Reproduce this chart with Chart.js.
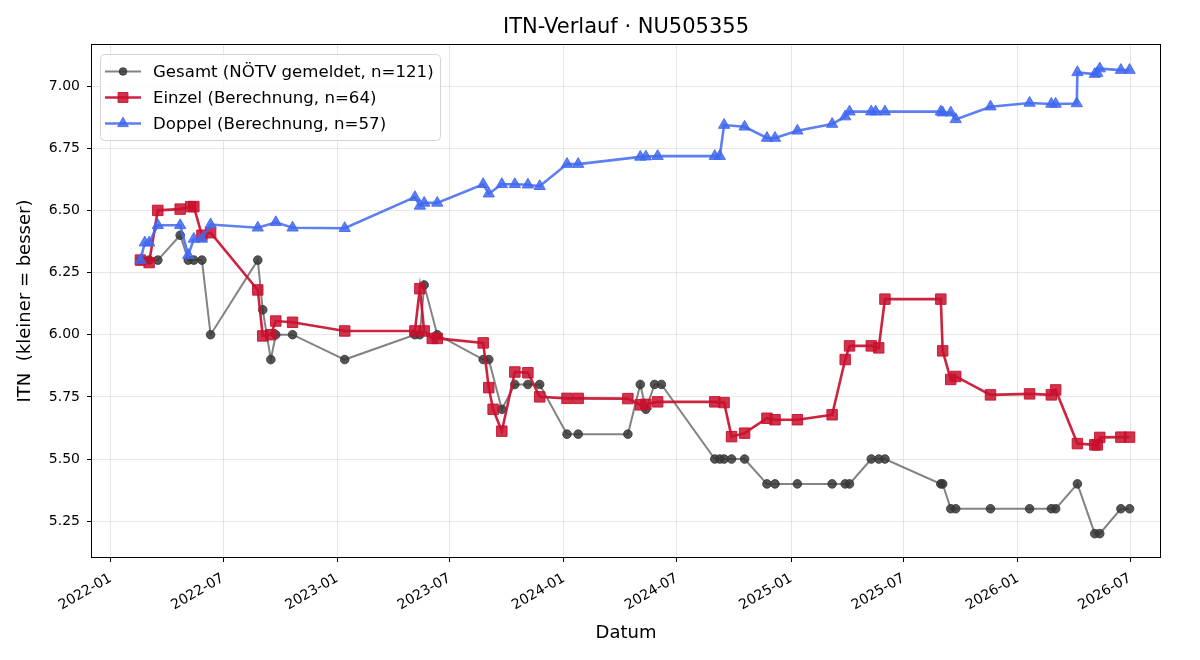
<!DOCTYPE html>
<html>
<head>
<meta charset="utf-8">
<title>ITN-Verlauf</title>
<script src="https://cdn.jsdelivr.net/npm/chart.js@4.4.1/dist/chart.umd.min.js"></script>
<style>
  html, body { margin: 0; padding: 0; background: #fff; }
  #wrap { width: 1200px; height: 660px; }
</style>
</head>
<body>
<div id="wrap"><canvas id="itnChart" width="1200" height="660"></canvas></div>
<script>
// Gesamt (NÖTV gemeldet)
const gesamtDates = ["2022-02-18","2022-03-04","2022-03-18","2022-04-23","2022-05-06","2022-05-15","2022-05-28","2022-06-11","2022-08-26","2022-09-03",
  "2022-09-16","2022-09-24","2022-10-21","2023-01-13","2023-05-06","2023-05-14","2023-05-21","2023-06-11","2023-08-24","2023-09-02",
  "2023-09-23","2023-10-14","2023-11-04","2023-11-23","2024-01-06","2024-01-24","2024-04-13","2024-05-03","2024-05-12","2024-05-26",
  "2024-06-06","2024-08-31","2024-09-08","2024-09-15","2024-09-27","2024-10-18","2024-11-23","2024-12-06","2025-01-11","2025-03-08",
  "2025-03-29","2025-04-05","2025-05-10","2025-05-22","2025-06-01","2025-08-30","2025-09-02","2025-09-15","2025-09-23","2025-11-18",
  "2026-01-20","2026-02-24","2026-03-03","2026-04-07","2026-05-05","2026-05-13","2026-06-16","2026-06-30"];
const gesamtValues = [6.30,6.30,6.30,6.40,6.30,6.30,6.30,6.00,6.30,6.10,
  5.90,6.00,6.00,5.90,6.00,6.00,6.20,6.00,5.90,5.90,
  5.70,5.80,5.80,5.80,5.60,5.60,5.60,5.80,5.70,5.80,
  5.80,5.50,5.50,5.50,5.50,5.50,5.40,5.40,5.40,5.40,
  5.40,5.40,5.50,5.50,5.50,5.40,5.40,5.30,5.30,5.30,
  5.30,5.30,5.30,5.40,5.20,5.20,5.30,5.30];

// Einzel (Berechnung)
const einzelDates = ["2022-02-18","2022-03-04","2022-03-18","2022-04-23","2022-05-10","2022-05-15","2022-05-28","2022-06-11","2022-08-26","2022-09-03",
  "2022-09-16","2022-09-24","2022-10-21","2023-01-13","2023-05-06","2023-05-14","2023-05-21","2023-06-03","2023-06-11","2023-08-24",
  "2023-09-02","2023-09-09","2023-09-23","2023-10-14","2023-11-04","2023-11-23","2024-01-06","2024-01-24","2024-04-13","2024-05-03",
  "2024-05-12","2024-05-31","2024-08-31","2024-09-15","2024-09-27","2024-10-18","2024-11-23","2024-12-06","2025-01-11","2025-03-08",
  "2025-03-29","2025-04-05","2025-05-10","2025-05-22","2025-06-01","2025-08-30","2025-09-02","2025-09-15","2025-09-23","2025-11-18",
  "2026-01-20","2026-02-24","2026-03-03","2026-04-07","2026-05-05","2026-05-09","2026-05-13","2026-06-16","2026-06-30"];
const einzelValues = [6.30,6.29,6.50,6.505,6.515,6.515,6.40,6.41,6.18,5.995,
  6.00,6.055,6.05,6.015,6.015,6.185,6.015,5.985,5.985,5.967,
  5.787,5.70,5.612,5.85,5.847,5.75,5.744,5.744,5.743,5.718,
  5.72,5.73,5.73,5.727,5.59,5.604,5.664,5.658,5.658,5.678,
  5.90,5.955,5.955,5.947,6.143,6.143,5.935,5.82,5.832,5.758,
  5.762,5.758,5.778,5.562,5.557,5.557,5.587,5.588,5.588];

// Doppel (Berechnung)
const doppelDates = ["2022-02-18","2022-02-25","2022-03-04","2022-03-18","2022-04-23","2022-05-06","2022-05-15","2022-05-28","2022-06-11","2022-08-26",
  "2022-09-24","2022-10-21","2023-01-13","2023-05-06","2023-05-14","2023-05-21","2023-06-11","2023-08-24","2023-09-02","2023-09-23",
  "2023-10-14","2023-11-04","2023-11-23","2024-01-06","2024-01-24","2024-05-03","2024-05-12","2024-05-31","2024-08-31","2024-09-08",
  "2024-09-15","2024-10-18","2024-11-23","2024-12-06","2025-01-11","2025-03-08","2025-03-29","2025-04-05","2025-05-10","2025-05-17",
  "2025-06-01","2025-08-30","2025-09-02","2025-09-15","2025-09-23","2025-11-18","2026-01-20","2026-02-24","2026-03-03","2026-04-06",
  "2026-04-07","2026-05-05","2026-05-09","2026-05-13","2026-06-16","2026-06-30"];
const doppelValues = [6.30,6.37,6.37,6.44,6.44,6.32,6.385,6.385,6.443,6.43,
  6.452,6.43,6.428,6.553,6.518,6.53,6.53,6.605,6.567,6.605,
  6.605,6.603,6.597,6.686,6.686,6.715,6.716,6.718,6.718,6.718,
  6.843,6.836,6.791,6.791,6.82,6.847,6.877,6.897,6.897,6.897,
  6.897,6.897,6.893,6.893,6.866,6.917,6.932,6.928,6.928,6.930,
  7.055,7.048,7.052,7.070,7.064,7.064];

// Achsen
const xTickLabels = ["2022-01","2022-07","2023-01","2023-07","2024-01","2024-07","2025-01","2025-07","2026-01","2026-07"];
const yTickValues = [5.25, 5.50, 5.75, 6.00, 6.25, 6.50, 6.75, 7.00];
const xMin = "2021-12-02", xMax = "2026-08-18";
const yMin = 5.106, yMax = 7.165;

const FONT = "'DejaVu Sans', sans-serif";

function toMs(s) {
    const p = s.split("-").map(Number);
    return Date.UTC(p[0], p[1] - 1, p[2] || 1);
}

function toPoints(dates, values) {
    return dates.map((d, i) => ({ x: toMs(d), y: values[i] }));
}

// Legende innerhalb der Achsen (wie matplotlib, oben links)
const innerLegend = {
    id: "innerLegend",
    afterDatasetsDraw(chart) {
        const ctx = chart.ctx;
        const area = chart.chartArea;
        const x0 = area.left + 8, y0 = area.top + 9;
        const w = 340, h = 86;
        ctx.save();
        ctx.beginPath();
        ctx.roundRect(x0 + 0.5, y0 + 0.5, w, h, 4);
        ctx.fillStyle = "rgba(255,255,255,0.8)";
        ctx.fill();
        ctx.strokeStyle = "#d5d5d5";
        ctx.lineWidth = 1;
        ctx.stroke();

        // Reihenfolge wie im Original: Gesamt, Einzel, Doppel
        chart.data.datasets.forEach((ds, i) => {
            const cy = y0 + 17.5 + i * 26;
            ctx.beginPath();
            ctx.moveTo(x0 + 5, cy);
            ctx.lineTo(x0 + 41, cy);
            ctx.strokeStyle = ds.borderColor;
            ctx.lineWidth = ds.borderWidth;
            ctx.stroke();
            ctx.fillStyle = ds.pointBackgroundColor;
            ctx.strokeStyle = ds.pointBorderColor;
            ctx.lineWidth = ds.pointBorderWidth;
            Chart.helpers.drawPoint(ctx, {
                pointStyle: ds.pointStyle,
                radius: ds.legendRadius,
                rotation: 0,
                borderWidth: ds.pointBorderWidth
            }, x0 + 23, cy);
            ctx.fillStyle = "#000";
            ctx.font = "16.6px " + FONT;
            ctx.textBaseline = "middle";
            ctx.textAlign = "left";
            ctx.fillText(ds.label, x0 + 53, cy + 1);
        });
        ctx.restore();
    }
};

// Rahmen um die Achsen
const frame = {
    id: "frame",
    afterDraw(chart) {
        const a = chart.chartArea;
        const ctx = chart.ctx;
        ctx.save();
        ctx.strokeStyle = "#000";
        ctx.lineWidth = 1;
        ctx.strokeRect(Math.round(a.left) - 0.5, Math.round(a.top) - 0.5,
            Math.round(a.right - a.left) + 1, Math.round(a.bottom - a.top) + 1);
        ctx.restore();
    }
};

const data = {
    datasets: [
        {
            label: "Gesamt (NÖTV gemeldet, n=121)",
            data: toPoints(gesamtDates, gesamtValues),
            borderColor: "rgba(90,90,90,0.75)",
            borderWidth: 2,
            pointStyle: "circle",
            pointRadius: 4.3,
            legendRadius: 3.8,
            pointBackgroundColor: "rgba(55,55,55,0.85)",
            pointBorderColor: "rgba(55,55,55,0.85)",
            pointBorderWidth: 1,
            order: 3,
        },
        {
            label: "Einzel (Berechnung, n=64)",
            data: toPoints(einzelDates, einzelValues),
            borderColor: "rgba(200,16,46,0.92)",
            borderWidth: 2.6,
            pointStyle: "rect",
            pointRadius: 7.4,
            legendRadius: 7,
            pointBackgroundColor: "rgba(200,16,46,0.85)",
            pointBorderColor: "rgba(200,16,46,0.9)",
            pointBorderWidth: 1,
            order: 2,
        },
        {
            label: "Doppel (Berechnung, n=57)",
            data: toPoints(doppelDates, doppelValues),
            borderColor: "rgba(65,105,240,0.85)",
            borderWidth: 2.6,
            pointStyle: "triangle",
            pointRadius: 6.5,
            legendRadius: 6.2,
            pointBackgroundColor: "rgba(65,105,240,0.85)",
            pointBorderColor: "rgba(65,105,240,0.9)",
            pointBorderWidth: 1,
            order: 1,
        },
    ],
};

const config = {
    type: "line",
    data: data,
    options: {
        responsive: false,
        animation: false,
        devicePixelRatio: 1,
        layout: { padding: { left: 0, right: 40, top: 0, bottom: 0 } },
        elements: { line: { tension: 0 } },
        scales: {
            x: {
                type: "linear",
                min: toMs(xMin),
                max: toMs(xMax),
                afterBuildTicks: (scale) => {
                    scale.ticks = xTickLabels.map(t => ({ value: toMs(t) }));
                },
                afterFit: (scale) => { scale.height = 103; },
                ticks: {
                    autoSkip: false,
                    minRotation: 30,
                    maxRotation: 30,
                    padding: 8,
                    color: "#000",
                    font: { family: FONT, size: 14 },
                    callback: (v) => {
                        const d = new Date(v);
                        return d.getUTCFullYear() + "-" + String(d.getUTCMonth() + 1).padStart(2, "0");
                    },
                },
                grid: {
                    color: "rgba(176,176,176,0.32)",
                    lineWidth: 1,
                    drawTicks: true,
                    tickLength: 5,
                    tickColor: "#000",
                },
                border: { display: false },
                title: {
                    display: true,
                    text: "Datum",
                    color: "#000",
                    font: { family: FONT, size: 18 },
                    padding: { top: 0, bottom: 16 },
                },
            },
            y: {
                min: yMin,
                max: yMax,
                afterBuildTicks: (scale) => {
                    scale.ticks = yTickValues.map(v => ({ value: v }));
                },
                afterFit: (scale) => { scale.width = 92; },
                ticks: {
                    padding: 7,
                    color: "#000",
                    font: { family: FONT, size: 14 },
                    callback: (v) => Number(v).toFixed(2),
                },
                grid: {
                    color: "rgba(176,176,176,0.32)",
                    lineWidth: 1,
                    drawTicks: true,
                    tickLength: 5,
                    tickColor: "#000",
                },
                border: { display: false },
                title: {
                    display: true,
                    text: "ITN  (kleiner = besser)",
                    color: "#000",
                    font: { family: FONT, size: 18 },
                    padding: { top: 15, bottom: 0 },
                },
            },
        },
        plugins: {
            legend: { display: false },
            tooltip: { enabled: false },
            title: {
                display: true,
                fullSize: false,
                text: "ITN-Verlauf · NU505355",
                color: "#000",
                font: { family: FONT, size: 21, weight: "normal" },
                padding: { top: 15, bottom: 4.8 },
            },
        },
    },
    plugins: [innerLegend, frame],
};

const itnChart = new Chart(document.getElementById("itnChart"), config);
</script>
</body>
</html>
